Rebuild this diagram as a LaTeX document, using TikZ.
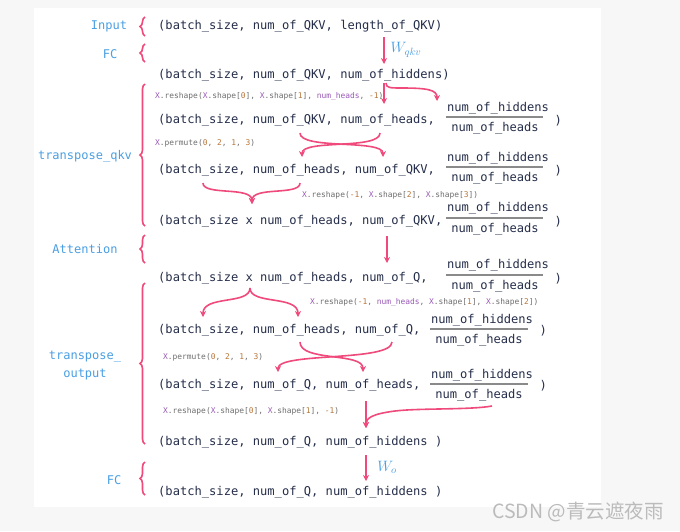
\RequirePackage{fix-cm}
\documentclass[tikz,border=0pt]{standalone}
\usepackage{fontspec}
\setmonofont{DejaVu Sans Mono}
\newfontfamily\cjkfont{Noto Sans CJK SC}
\usetikzlibrary{decorations.pathreplacing,arrows.meta}
\definecolor{txt}{HTML}{252E4A}
\definecolor{lbl}{HTML}{4A9FE3}
\definecolor{pk}{HTML}{F04A7C}
\definecolor{cgray}{HTML}{6E6E6E}
\definecolor{cpur}{HTML}{9A5BB8}
\definecolor{corg}{HTML}{B8763A}
\definecolor{bgc}{HTML}{F7F7F7}
\definecolor{fbar}{HTML}{8A8A8A}
\definecolor{wmc}{HTML}{BBBBBB}
\newcommand\cX{\textcolor{cpur}{X}}
\newcommand\cN[1]{\textcolor{corg}{#1}}
\newcommand\cH{\textcolor{cpur}{num\_heads}}
\begin{document}
\begin{tikzpicture}[x=1pt,y=-1pt,
 row/.style={anchor=west,inner sep=0pt,yshift=-1.5pt,text=txt,font=\fontsize{12.1}{14}\ttfamily},
 frac/.style={inner sep=0pt,yshift=-1.5pt,text=txt,font=\fontsize{12.1}{14}\ttfamily},
 lab/.style={inner sep=0pt,yshift=-1.5pt,text=lbl,font=\fontsize{12}{18}\ttfamily},
 code/.style={anchor=west,inner sep=0pt,yshift=-1pt,text=cgray,font=\fontsize{7.9}{9}\ttfamily},
 brc/.style={draw=pk,line width=1.6pt,decorate,decoration={brace,amplitude=5pt}},
 arr/.style={draw=pk,line width=1.6pt,-{Stealth[length=6pt,width=6pt]}},
 fbarline/.style={draw=fbar,line width=1.2pt}]
\fill[bgc] (0,0) rectangle (680,531);
\fill[white] (34,8) rectangle (601,507);
\useasboundingbox (0,0) rectangle (680,531);

% braces
\draw[brc] (145,36) -- (145,17);
\draw[brc] (145,62) -- (145,44);
\draw[brc] (145,226) -- (145,84);
\draw[brc] (145,263) -- (145,235);
\draw[brc] (145,444) -- (145,283);
\draw[brc] (145,495) -- (145,462);

% labels
\node[lab] (lInput) at (109,25) {Input};
\node[lab] (lFC1) at (110,53) {FC};
\node[lab] (lTq) at (85,155) {transpose\_qkv};
\node[lab] (lAtt) at (85,248) {Attention};
\node[lab,align=center] (lTo) at (85,364) {transpose\_\\output};
\node[lab] (lFC2) at (114,479) {FC};

% rows
\node[row] (r1) at (158,25) {(batch\_size, num\_of\_QKV, length\_of\_QKV)};
\node[row] (r2) at (158,74) {(batch\_size, num\_of\_QKV, num\_of\_hiddens)};
\node[row] (r3) at (158,119) {(batch\_size, num\_of\_QKV, num\_of\_heads,};
\node[row] (r4) at (158,169) {(batch\_size, num\_of\_heads, num\_of\_QKV,};
\node[row] (r5) at (158,220) {(batch\_size x num\_of\_heads, num\_of\_QKV,};
\node[row] (r6) at (158,277) {(batch\_size x num\_of\_heads, num\_of\_Q,};
\node[row] (r7) at (158,329) {(batch\_size, num\_of\_heads, num\_of\_Q,};
\node[row] (r8) at (158,384) {(batch\_size, num\_of\_Q, num\_of\_heads,};
\node[row] (r9) at (158,441) {(batch\_size, num\_of\_Q, num\_of\_hiddens )};
\node[row] (r10) at (158,491) {(batch\_size, num\_of\_Q, num\_of\_hiddens )};

% fractions
\foreach \nm/\yn/\yb/\yd/\yr in {3/107/117/127/119,4/157/167/177/169,5/207/218/228/220,6/264/275/285/277}{
  \node[frac] (n\nm) at (498,\yn) {num\_of\_hiddens};
  \node[frac] (d\nm) at (495,\yd) {num\_of\_heads};
  \draw[fbarline] (446,\yb) -- (543,\yb);
  \node[row] (p\nm) at (554.5,\yr) {)};
}
\foreach \nm/\yn/\yb/\yd/\yr in {7/319/329/339/329,8/374/384/394/384}{
  \node[frac] (n\nm) at (482,\yn) {num\_of\_hiddens};
  \node[frac] (d\nm) at (479,\yd) {num\_of\_heads};
  \draw[fbarline] (430,\yb) -- (528,\yb);
  \node[row] (p\nm) at (539.5,\yr) {)};
}

% code
\node[code] (c1) at (155,95) {\cX.reshape(\cX.shape[\cN{0}], \cX.shape[\cN{1}], \cH, \cN{-1})};
\node[code] (c2) at (155,142) {\cX.permute(\cN{0}, \cN{2}, \cN{1}, \cN{3})};
\node[code] (c3) at (302,194) {\cX.reshape(\cN{-1}, \cX.shape[\cN{2}], \cX.shape[\cN{3}])};
\node[code] (c4) at (310,301) {\cX.reshape(\cN{-1}, \cH, \cX.shape[\cN{1}], \cX.shape[\cN{2}])};
\node[code] (c5) at (163,356) {\cX.permute(\cN{0}, \cN{2}, \cN{1}, \cN{3})};
\node[code] (c6) at (163,410) {\cX.reshape(\cX.shape[\cN{0}], \cX.shape[\cN{1}], \cN{-1})};

% arrow coordinates
\coordinate (a1s) at (384,37);   \coordinate (a1e) at (384,64);
\coordinate (a2s) at (384,83);   \coordinate (a2e) at (384,104);
\coordinate (a3s) at (386,83);   \coordinate (a3e) at (437,101);
\coordinate (a4s) at (300,133);  \coordinate (a4e) at (383,157);
\coordinate (a5s) at (380,133);  \coordinate (a5e) at (302,157);
\coordinate (m1) at (203,183);   \coordinate (m2) at (300,183); \coordinate (me) at (252,204);
\coordinate (a6s) at (387,236);  \coordinate (a6e) at (387,263);
\coordinate (sp) at (250,288);   \coordinate (sl) at (203,317); \coordinate (sr) at (298,317);
\coordinate (x1s) at (300,342);  \coordinate (x1e) at (363,372);
\coordinate (x2s) at (392,342);  \coordinate (x2e) at (278,372);
\coordinate (v1s) at (366,401);  \coordinate (v1e) at (366,428);
\coordinate (v2s) at (492,406);
\coordinate (w2s) at (366,455);  \coordinate (w2e) at (366,481);

\draw[arr] (a1s) -- (a1e);
\node[text=lbl,inner sep=0pt,font=\fontsize{15}{17}\selectfont] (wqkv) at (406,50) {$W_{qkv}$};
\draw[arr] (a2s) -- (a2e);
\draw[arr] (a3s) .. controls (386,88) and (390,88) .. (402,88) .. controls (428,88) and (437,90) .. (a3e);
\draw[arr] (a4s) .. controls (300,150) and (383,139) .. (a4e);
\draw[arr] (a5s) .. controls (380,150) and (302,139) .. (a5e);
\draw[arr] (m1) .. controls (203,196) and (252,186) .. (me);
\draw[arr] (m2) .. controls (300,196) and (252,186) .. (me);
\draw[arr] (a6s) -- (a6e);
\draw[arr] (sp) .. controls (250,305) and (203,295) .. (sl);
\draw[arr] (sp) .. controls (250,305) and (298,295) .. (sr);
\draw[arr] (x1s) .. controls (300,362) and (363,352) .. (x1e);
\draw[arr] (x2s) .. controls (392,362) and (278,352) .. (x2e);
\draw[arr] (v1s) -- (v1e);
\draw[arr] (v2s) .. controls (470,410) and (420,408) .. (395,411) .. controls (372,414) and (366,418) .. (v1e);
\draw[arr] (w2s) -- (w2e);
\node[text=lbl,inner sep=0pt,font=\fontsize{15}{17}\selectfont] (wo) at (387,467) {$W_{o}$};

% watermark
\node[anchor=east,text=wmc,inner sep=0pt,font=\cjkfont\fontsize{19.5}{21}\selectfont] (wm) at (664,512) {CSDN @青云遮夜雨};
\end{tikzpicture}
\end{document}
